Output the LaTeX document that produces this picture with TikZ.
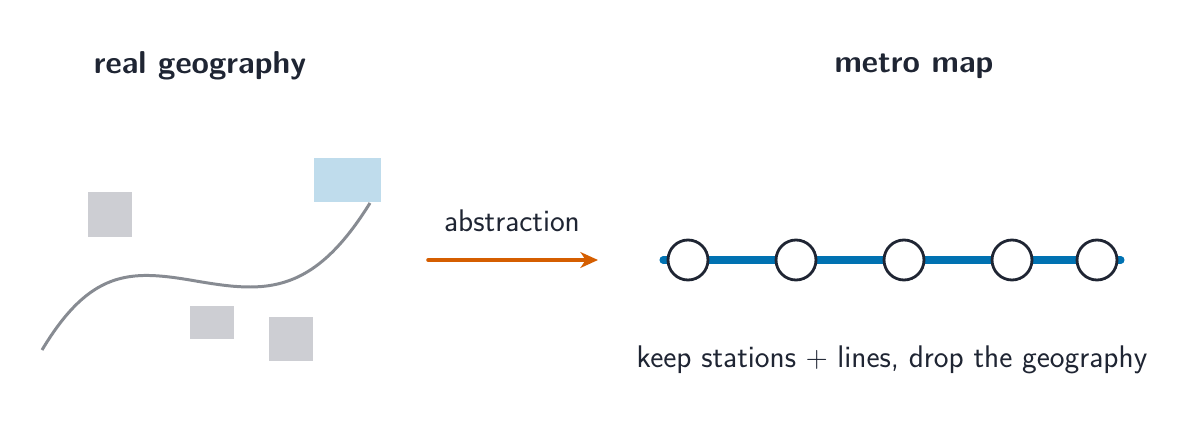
\documentclass[tikz,border=0pt]{standalone}
\usepackage{fontspec}
\usetikzlibrary{arrows.meta}
\begin{document}
\begin{tikzpicture}[x=0.02cm,y=-0.02cm,
  stn/.style={circle,draw=inkc,line width=1.6pt,fill=white,minimum size=0.8cm,inner sep=0pt},
  title/.style={font=\sffamily\fontsize{18}{20}\selectfont\bfseries,text=inkc},
  lbl/.style={font=\sffamily\fontsize{17.8}{19}\selectfont,text=inkc}]
\definecolor{inkc}{HTML}{1F2533}
\definecolor{blkc}{HTML}{CDCED3}
\definecolor{wat}{HTML}{BFDCEC}
\definecolor{rd}{HTML}{878B92}
\definecolor{org}{HTML}{D55E00}
\definecolor{mb}{HTML}{0072B2}
\useasboundingbox (0,0) rectangle (1204,439);
\node[title] (t1) at (200,66) {real geography};
\node[title] (t2) at (914,66) {metro map};
\fill[blkc] (88,192) rectangle (132,237);
\fill[blkc] (190,306) rectangle (234,339);
\fill[blkc] (269,317) rectangle (313,361);
\fill[wat] (314,158) rectangle (381,202);
\coordinate (r0) at (42,350);
\coordinate (r1) at (370,203);
\draw[rd,line width=1.7pt] (r0) .. controls (90,270) and (130,270) .. (190,280)
  .. controls (260,292) and (310,300) .. (r1);
\coordinate (a0) at (428,260);
\coordinate (a1) at (598,260);
\draw[org,line width=2pt,line cap=round,-{Stealth[length=10pt,width=9pt,inset=3pt]}] (a0) -- (a1);
\node[lbl] (ab) at (512,221) {abstraction};
\coordinate (m0) at (663,260);
\coordinate (m1) at (1121,260);
\draw[mb,line width=4pt,line cap=round] (m0) -- (m1);
\foreach \x [count=\i] in {688,796,904,1012,1097} \node[stn] (s\i) at (\x,260) {};
\node[lbl] (kp) at (892,360) {keep stations $+$ lines, drop the geography};
\end{tikzpicture}
\end{document}
